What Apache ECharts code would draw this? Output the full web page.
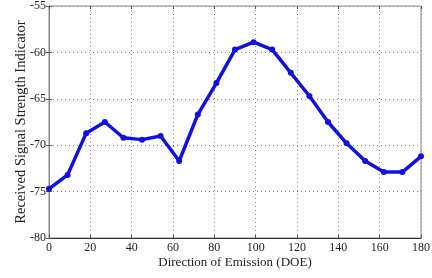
<!DOCTYPE html>
<html>
<head>
<meta charset="utf-8">
<script src="https://cdn.jsdelivr.net/npm/echarts@6/dist/echarts.min.js"></script>
<style>
  html, body { margin: 0; padding: 0; background: #fff; }
  #chart { width: 432px; height: 278px; }
</style>
</head>
<body>
<div id="chart"></div>
<script>
const angles = [0, 9, 18, 27, 36, 45, 54, 63, 72, 81, 90, 99, 108, 117, 126, 135, 144, 153, 162, 171, 180]
const rssi = [-74.7, -73.2, -68.7, -67.5, -69.2, -69.4, -69.0, -71.7, -66.7, -63.3, -59.7, -58.9, -59.7, -62.2, -64.7, -67.5, -69.8, -71.7, -72.9, -72.9, -71.2]

const font = "Liberation Serif"
const chart = echarts.init(document.querySelector("#chart"))

const dotted = { show: true, lineStyle: { color: "#8a8a8a", type: [1, 3], width: 1 } }
const tickLabel = { color: "#222", fontFamily: font, fontSize: 12 }

chart.setOption({
	animation: false,
	grid: {
		left: 49, right: 11, top: 6, bottom: 40,
		outerBoundsMode: "none",
		containLabel: false,
		show: true,
		borderColor: "#888",
		borderWidth: 1
	},
	xAxis: [
		{
			type: "value",
			min: 0,
			max: 180,
			interval: 20,
			name: "Direction of Emission (DOE)",
			nameLocation: "middle",
			nameGap: 18,
			nameMoveOverlap: false,
			nameTextStyle: { color: "#222", fontFamily: font, fontSize: 13 },
			axisLine: { onZero: false, lineStyle: { color: "#333" } },
			axisTick: { inside: true, length: 3, lineStyle: { color: "#555" } },
			axisLabel: { ...tickLabel, margin: 4 },
			splitLine: dotted
		},
		{
			type: "value",
			position: "top",
			min: 0,
			max: 180,
			interval: 20,
			axisLine: { show: false },
			axisTick: { inside: true, length: 3, lineStyle: { color: "#555" } },
			axisLabel: { show: false },
			splitLine: { show: false }
		}
	],
	yAxis: [
		{
			type: "value",
			min: -80,
			max: -55,
			interval: 5,
			name: "Received Signal Strength Indicator",
			nameLocation: "middle",
			nameGap: 20,
			nameMoveOverlap: false,
			nameTextStyle: { color: "#222", fontFamily: font, fontSize: 14.5 },
			axisLine: { show: true, onZero: false, lineStyle: { color: "#888" } },
			axisTick: { show: true, inside: true, length: 3, lineStyle: { color: "#555" } },
			axisLabel: { ...tickLabel, margin: 3 },
			splitLine: dotted
		},
		{
			type: "value",
			position: "right",
			min: -80,
			max: -55,
			interval: 5,
			axisLine: { show: false },
			axisTick: { show: true, inside: true, length: 3, lineStyle: { color: "#555" } },
			axisLabel: { show: false },
			splitLine: { show: false }
		}
	],
	series: [
		{
			type: "line",
			data: angles.map((a, i) => [a, rssi[i]]),
			symbol: "circle",
			symbolSize: 6,
			lineStyle: { color: "#1010e0", width: 3.5 },
			itemStyle: { color: "#1010e0" }
		}
	]
})
</script>
</body>
</html>
